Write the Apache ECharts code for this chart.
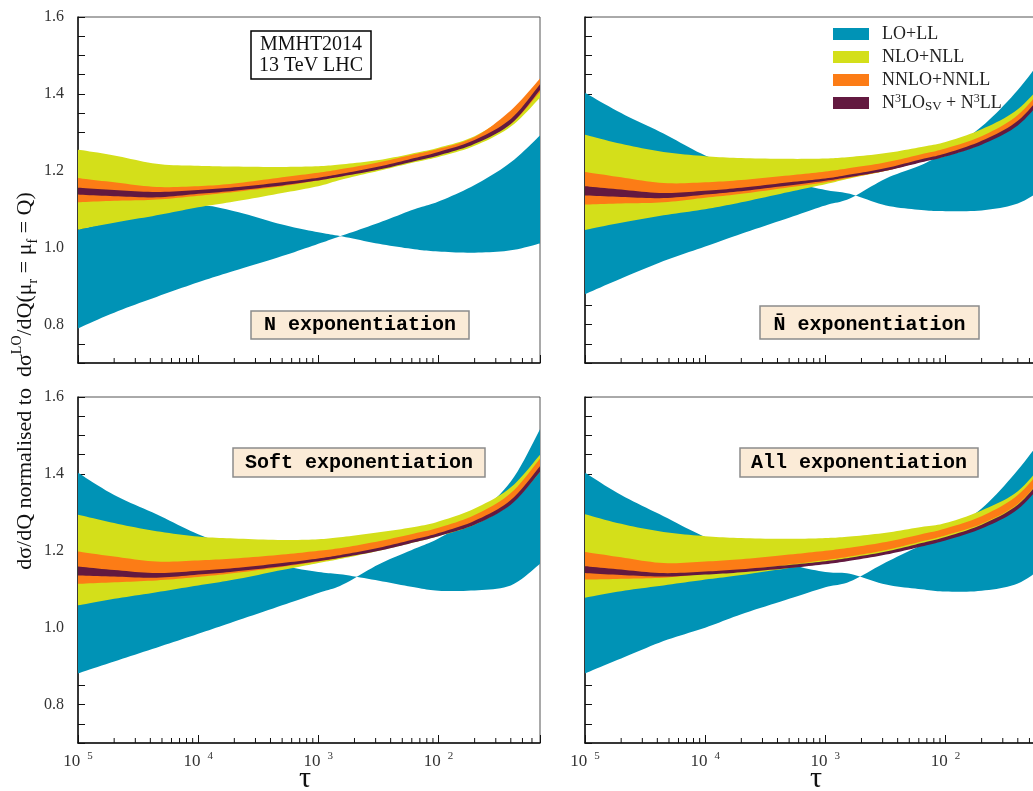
<!DOCTYPE html>
<html>
<head>
<meta charset="utf-8">
<script src="https://cdn.jsdelivr.net/npm/echarts@6/dist/echarts.min.js"></script>
<style>html,body{margin:0;padding:0;background:#fff;}#c{width:1033px;height:791px;}</style>
</head>
<body>
<div id="c"></div>
<script>
// ---- data ----
const tau = [1e-5, 2e-5, 4.5e-5, 1e-4, 2e-4, 5e-4, 1e-3, 1.6e-3, 3.2e-3, 6.3e-3, 1e-2, 2e-2, 4e-2, 7e-2];
const xTickLabels = ['10 5', '10 4', '10 3', '10 2'];
const xTitle = '\u03c4';
const seriesNames = ['LO+LL', 'NLO+NLL', 'NNLO+NNLL', 'N3LOSV+N3LL'];
const seriesColors = ['#0093B6', '#D4DF1A', '#FC7C16', '#631940'];
const panelLabels = ['N exponentiation', 'N\u0304 exponentiation', 'Soft exponentiation', 'All exponentiation'];

// N exponentiation (top-left)
const N_LO_b   = [0.790, 0.831, 0.872, 0.910, 0.940, 0.978, 1.010, 1.032, 1.065, 1.100, 1.120, 1.163, 1.222, 1.292];
const N_LO_a   = [1.047, 1.068, 1.090, 1.110, 1.095, 1.060, 1.040, 1.029, 1.010, 0.996, 0.990, 0.987, 0.993, 1.011];
const N_NLO_lo = [1.047, 1.065, 1.084, 1.105, 1.120, 1.142, 1.160, 1.178, 1.200, 1.222, 1.236, 1.265, 1.315, 1.390];
const N_NLO_hi = [1.255, 1.240, 1.218, 1.213, 1.211, 1.210, 1.212, 1.217, 1.228, 1.246, 1.260, 1.290, 1.352, 1.430];
const N_NNLO_lo = [1.118, 1.122, 1.125, 1.135, 1.145, 1.160, 1.175, 1.186, 1.205, 1.228, 1.243, 1.273, 1.322, 1.405];
const N_NNLO_hi = [1.181, 1.170, 1.158, 1.160, 1.167, 1.183, 1.195, 1.205, 1.222, 1.243, 1.257, 1.288, 1.357, 1.440];
const N_N3LO_lo = [1.138, 1.134, 1.131, 1.140, 1.148, 1.162, 1.175, 1.186, 1.203, 1.225, 1.240, 1.270, 1.322, 1.410];
const N_N3LO_hi = [1.156, 1.150, 1.145, 1.150, 1.157, 1.170, 1.182, 1.193, 1.211, 1.233, 1.249, 1.280, 1.335, 1.425];

// N-bar exponentiation (top-right)
const NB_LO_b   = [0.879, 0.920, 0.965, 1.003, 1.036, 1.078, 1.110, 1.128, 1.180, 1.215, 1.250, 1.315, 1.410, 1.510];
const NB_LO_a   = [1.403, 1.350, 1.297, 1.240, 1.210, 1.172, 1.150, 1.140, 1.110, 1.098, 1.095, 1.097, 1.115, 1.160];
const NB_NLO_lo = [1.046, 1.065, 1.084, 1.100, 1.118, 1.145, 1.165, 1.180, 1.200, 1.224, 1.238, 1.270, 1.325, 1.395];
const NB_NLO_hi = [1.294, 1.270, 1.249, 1.238, 1.233, 1.231, 1.232, 1.236, 1.246, 1.262, 1.275, 1.308, 1.360, 1.440];
const NB_NNLO_lo = [1.112, 1.115, 1.118, 1.130, 1.140, 1.157, 1.170, 1.182, 1.200, 1.224, 1.240, 1.270, 1.322, 1.405];
const NB_NNLO_hi = [1.197, 1.183, 1.168, 1.170, 1.176, 1.188, 1.198, 1.207, 1.222, 1.243, 1.258, 1.290, 1.345, 1.430];
const NB_N3LO_lo = [1.136, 1.132, 1.129, 1.138, 1.147, 1.162, 1.174, 1.184, 1.200, 1.222, 1.237, 1.268, 1.318, 1.400];
const NB_N3LO_hi = [1.160, 1.151, 1.142, 1.148, 1.156, 1.170, 1.180, 1.190, 1.207, 1.230, 1.245, 1.278, 1.330, 1.415];

// Soft exponentiation (bottom-left)
const S_LO_b   = [0.881, 0.912, 0.948, 0.984, 1.016, 1.058, 1.090, 1.112, 1.165, 1.205, 1.232, 1.290, 1.380, 1.516];
const S_LO_a   = [1.403, 1.345, 1.295, 1.243, 1.210, 1.163, 1.145, 1.138, 1.122, 1.105, 1.096, 1.097, 1.110, 1.166];
const S_NLO_lo = [1.058, 1.075, 1.092, 1.110, 1.125, 1.150, 1.168, 1.180, 1.200, 1.222, 1.238, 1.268, 1.322, 1.405];
const S_NLO_hi = [1.294, 1.272, 1.251, 1.237, 1.232, 1.228, 1.230, 1.236, 1.248, 1.262, 1.276, 1.310, 1.365, 1.450];
const S_NNLO_lo = [1.114, 1.118, 1.123, 1.132, 1.142, 1.158, 1.172, 1.183, 1.202, 1.226, 1.242, 1.274, 1.328, 1.410];
const S_NNLO_hi = [1.198, 1.185, 1.172, 1.175, 1.180, 1.190, 1.200, 1.208, 1.225, 1.245, 1.260, 1.293, 1.350, 1.440];
const S_N3LO_lo = [1.136, 1.133, 1.130, 1.138, 1.146, 1.160, 1.173, 1.183, 1.200, 1.222, 1.238, 1.268, 1.320, 1.405];
const S_N3LO_hi = [1.159, 1.150, 1.142, 1.148, 1.155, 1.168, 1.180, 1.190, 1.208, 1.230, 1.246, 1.278, 1.332, 1.420];

// All exponentiation (bottom-right)
const A_LO_b   = [0.881, 0.920, 0.965, 1.000, 1.035, 1.075, 1.105, 1.120, 1.170, 1.215, 1.250, 1.310, 1.410, 1.510];
const A_LO_a   = [1.403, 1.345, 1.290, 1.236, 1.205, 1.165, 1.145, 1.140, 1.112, 1.100, 1.094, 1.096, 1.115, 1.165];
const A_NLO_lo = [1.078, 1.095, 1.110, 1.125, 1.137, 1.155, 1.168, 1.178, 1.196, 1.218, 1.234, 1.265, 1.315, 1.395];
const A_NLO_hi = [1.295, 1.270, 1.249, 1.238, 1.233, 1.231, 1.233, 1.237, 1.247, 1.262, 1.272, 1.305, 1.355, 1.440];
const A_NNLO_lo = [1.125, 1.127, 1.130, 1.140, 1.150, 1.164, 1.176, 1.185, 1.202, 1.224, 1.240, 1.270, 1.322, 1.405];
const A_NNLO_hi = [1.197, 1.183, 1.168, 1.172, 1.178, 1.190, 1.200, 1.208, 1.223, 1.243, 1.258, 1.290, 1.345, 1.430];
const A_N3LO_lo = [1.142, 1.137, 1.133, 1.138, 1.144, 1.155, 1.165, 1.174, 1.190, 1.211, 1.227, 1.258, 1.308, 1.390];
const A_N3LO_hi = [1.160, 1.151, 1.142, 1.146, 1.152, 1.163, 1.173, 1.182, 1.198, 1.220, 1.236, 1.268, 1.320, 1.405];

// ---- build ----
const panels = [
  [[N_LO_b, N_LO_a], [N_NLO_lo, N_NLO_hi], [N_NNLO_lo, N_NNLO_hi], [N_N3LO_lo, N_N3LO_hi]],
  [[NB_LO_b, NB_LO_a], [NB_NLO_lo, NB_NLO_hi], [NB_NNLO_lo, NB_NNLO_hi], [NB_N3LO_lo, NB_N3LO_hi]],
  [[S_LO_b, S_LO_a], [S_NLO_lo, S_NLO_hi], [S_NNLO_lo, S_NNLO_hi], [S_N3LO_lo, S_N3LO_hi]],
  [[A_LO_b, A_LO_a], [A_NLO_lo, A_NLO_hi], [A_NNLO_lo, A_NNLO_hi], [A_N3LO_lo, A_N3LO_hi]]
];
const XMIN = 1e-5, XMAX = 0.07, YMIN = 0.7, YMAX = 1.6;
const gridPos = [
  {left: 78, top: 17}, {left: 585, top: 17},
  {left: 78, top: 397}, {left: 585, top: 397}
];
const serif = 'Liberation Serif';

const minorTicks = [];
for (let n = -5; n <= -2; n++) {
  for (let k = 2; k <= 9; k++) {
    const v = k * Math.pow(10, n);
    if (v < XMAX) minorTicks.push(v);
  }
}

const grids = gridPos.map(p => ({
  left: p.left, top: p.top, width: 462, height: 346,
  show: true, borderColor: '#555', borderWidth: 1, backgroundColor: 'transparent',
  containLabel: false, outerBoundsMode: 'none'
}));

const xAxes = gridPos.map((p, i) => ({
  type: 'log', logBase: 10, gridIndex: i, min: XMIN, max: XMAX,
  axisLine: {show: true, onZero: false, lineStyle: {color: '#111', width: 1.5}},
  axisTick: {show: true, inside: true, length: 8, lineStyle: {color: '#111', width: 1}},
  splitLine: {show: false},
  axisLabel: {
    show: i >= 2, margin: 8, color: '#333',
    fontFamily: serif, fontSize: 17, lineHeight: 22,
    formatter: function (v) {
      const l = Math.log10(v), e = Math.round(l);
      if (Math.abs(l - e) > 1e-6) return '';
      const lab = xTickLabels[e + 5];
      if (!lab) return '';
      const parts = lab.split(' ');
      return parts[0] + '{s|' + parts[1] + '}';
    },
    rich: {s: {fontSize: 11, fontFamily: serif, color: '#333', verticalAlign: 'top', padding: [0, 0, 0, 7]}}
  }
}));

const yAxes = gridPos.map((p, i) => ({
  type: 'value', gridIndex: i, min: YMIN, max: YMAX, interval: 0.05,
  axisLine: {show: true, onZero: false, lineStyle: {color: '#111', width: 1.5}},
  axisTick: {show: true, inside: true, length: 7, lineStyle: {color: '#111', width: 1}},
  splitLine: {show: false},
  axisLabel: {
    show: i % 2 === 0, margin: 14, color: '#333', fontFamily: serif, fontSize: 16,
    formatter: function (v) {
      const r = Math.round(v * 100);
      return (r % 20 === 0) ? (r / 100).toFixed(1) : '';
    }
  }
}));

// Smooth an edge in pixel space (Catmull-Rom rendering of the coord-mapped points)
function splineEdge(pts) {
  const out = [];
  const n = pts.length;
  const SUB = 10;
  for (let i = 0; i < n - 1; i++) {
    const p0 = pts[Math.max(0, i - 1)], p1 = pts[i], p2 = pts[i + 1], p3 = pts[Math.min(n - 1, i + 2)];
    for (let s = 0; s < SUB; s++) {
      const t = s / SUB, t2 = t * t, t3 = t2 * t;
      const f = (a, b, c, d) => 0.5 * ((2 * b) + (-a + c) * t + (2 * a - 5 * b + 4 * c - d) * t2 + (-a + 3 * b - 3 * c + d) * t3);
      out.push([f(p0[0], p1[0], p2[0], p3[0]), f(p0[1], p1[1], p2[1], p3[1])]);
    }
  }
  out.push(pts[n - 1]);
  return out;
}

function bandRenderer(lo, hi) {
  return function (params, api) {
    if (params.dataIndex !== 0) return null;
    const up = [], dn = [];
    for (let k = 0; k < tau.length; k++) {
      up.push(api.coord([tau[k], hi[k]]));
      dn.push(api.coord([tau[k], lo[k]]));
    }
    const pts = splineEdge(up).concat(splineEdge(dn).reverse());
    return {
      type: 'polygon',
      shape: {points: pts},
      style: {fill: api.visual('color'), stroke: null}
    };
  };
}

const series = [];
panels.forEach((bands, gi) => {
  bands.forEach((pair, bi) => {
    const lo = pair[0], hi = pair[1];
    series.push({
      type: 'custom', name: seriesNames[bi], xAxisIndex: gi, yAxisIndex: gi,
      silent: true, clip: true, z: 2 + bi,
      itemStyle: {color: seriesColors[bi]},
      encode: {x: 0, y: [1, 2]},
      data: tau.map((t, k) => [t, lo[k], hi[k]]),
      renderItem: bandRenderer(lo, hi)
    });
  });
  series.push({
    type: 'custom', xAxisIndex: gi, yAxisIndex: gi, silent: true, z: 20, clip: false,
    data: minorTicks.map(v => [v, YMIN]),
    renderItem: function (params, api) {
      const p = api.coord([api.value(0), api.value(1)]);
      return {type: 'line', shape: {x1: p[0], y1: p[1], x2: p[0], y2: p[1] - 5},
              style: {stroke: '#111', lineWidth: 1}};
    }
  });
});

function boxText(x, y, w, h, label, pad) {
  return [
    {type: 'rect', shape: {x: x, y: y, width: w, height: h}, z: 100,
     style: {fill: '#FBEBD7', stroke: '#8C8C8C', lineWidth: 1.5}},
    {type: 'text', x: x + w / 2, y: y + h / 2 + (pad || 0), z: 101,
     style: {text: label, font: 'bold 20px "Liberation Mono"', fill: '#000',
             align: 'center', verticalAlign: 'middle', textAlign: 'center', textVerticalAlign: 'middle'}}
  ];
}

const graphics = [].concat(
  [{type: 'rect', shape: {x: 251, y: 31, width: 120, height: 48}, z: 100,
    style: {fill: '#fff', stroke: '#000', lineWidth: 1.5}},
   {type: 'text', x: 311, y: 55, z: 101,
    style: {text: 'MMHT2014\n13 TeV LHC', font: '20px "Liberation Serif"', fill: '#111', lineHeight: 21,
            align: 'center', verticalAlign: 'middle', textAlign: 'center', textVerticalAlign: 'middle'}}],
  boxText(251, 311, 218, 28, panelLabels[0]),
  boxText(760, 306, 219, 33, panelLabels[1], 2),
  boxText(233, 448, 252, 29, panelLabels[2]),
  boxText(740, 448, 238, 29, panelLabels[3]),
  [305, 816].map(x => ({type: 'text', x: x, y: 779, z: 101,
    style: {text: xTitle, fontFamily: serif, fontSize: 30, fill: '#111',
            align: 'center', verticalAlign: 'middle', textAlign: 'center', textVerticalAlign: 'middle'}})),
  [{type: 'text', x: 25, y: 381, rotation: Math.PI / 2, z: 101,
    style: {text: 'd\u03c3/dQ normalised to  d\u03c3{sup|LO}/dQ(\u03bc{sub|r} = \u03bc{sub|f} = Q)',
            fontFamily: serif, fontSize: 22, lineHeight: 30, fill: '#111',
            align: 'center', verticalAlign: 'middle',
            rich: {sup: {fontSize: 14, fontFamily: serif, fill: '#111', verticalAlign: 'top'},
                   sub: {fontSize: 14, fontFamily: serif, fill: '#111', verticalAlign: 'bottom'}}}}]
);

const chart = echarts.init(document.getElementById('c'), null, {renderer: 'canvas'});
chart.setOption({
  animation: false,
  backgroundColor: '#fff',
  grid: grids,
  xAxis: xAxes,
  yAxis: yAxes,
  legend: {
    orient: 'vertical', left: 828, top: 19, itemGap: 3, itemWidth: 36, itemHeight: 12,
    icon: 'rect', selectedMode: false, z: 50,
    data: seriesNames.map((n, i) => ({name: n, itemStyle: {color: seriesColors[i], opacity: 1, borderWidth: 0}})),
    formatter: function (name) {
      if (name === 'N3LOSV+N3LL') return 'N{sup|3}LO{sub|SV} + N{sup|3}LL';
      return name;
    },
    textStyle: {
      fontFamily: serif, fontSize: 18, color: '#222', lineHeight: 20, padding: [0, 0, 0, 8],
      rich: {
        sup: {fontFamily: serif, fontSize: 12, color: '#222', verticalAlign: 'top'},
        sub: {fontFamily: serif, fontSize: 13, color: '#222', verticalAlign: 'bottom'}
      }
    }
  },
  graphic: graphics,
  series: series
});
</script>
</body>
</html>
